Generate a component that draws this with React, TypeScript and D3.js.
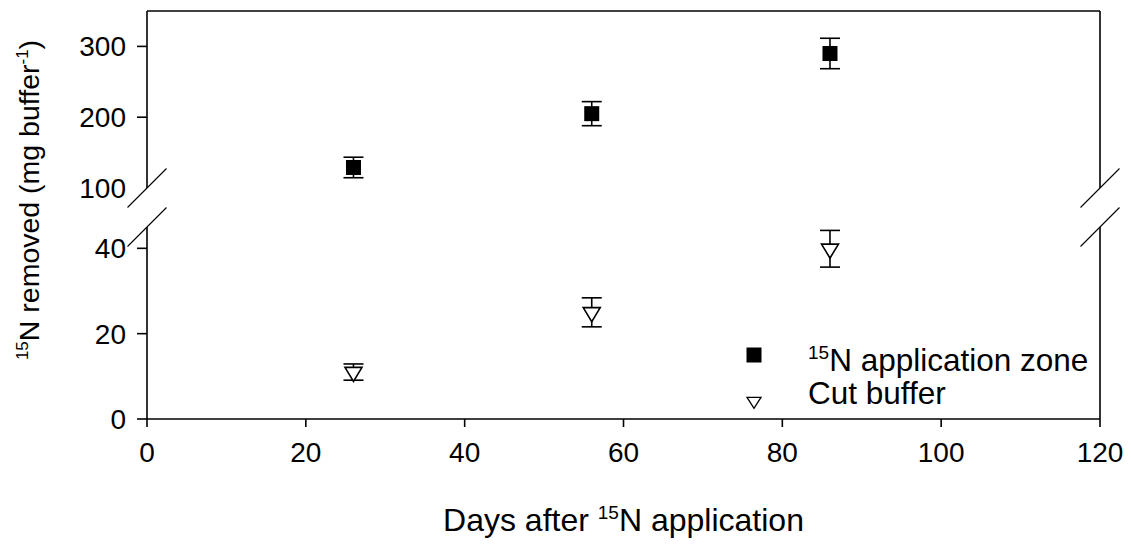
import React from "react";
import * as d3 from "d3";

const days = [26, 56, 86];
const zoneValues = [129, 205, 290];
const zoneErrors = [14.5, 17, 21.5];
const cutValues = [11, 25, 39.9];
const cutErrors = [1.9, 3.4, 4.3];
const xTicks = [0, 20, 40, 60, 80, 100, 120];
const upperTicks = [100, 200, 300];
const lowerTicks = [0, 20, 40];

const W = 1131;
const H = 546;
const left = 147;
const right = 1100;
const top = 11;
const bottom = 419;
const upperBottom = 188;
const lowerTop = 227;

const FONT = "'Liberation Sans', Arial, Helvetica, sans-serif";
const TICK_FS = 28;
const TITLE_FS = 32;
const YTITLE_FS = 28.5;
const LEG_FS = 31.5;

export default function App() {
  const x = d3.scaleLinear().domain([0, 120]).range([left, right]);
  const yU = d3.scaleLinear().domain([100, 350]).range([upperBottom, top]);
  const yL = d3.scaleLinear().domain([0, 45]).range([bottom, lowerTop]);

  const sw = 1.6;
  const cap = 10;
  const sq = 15;
  const triW = 17;
  const triH = 14;
  const tri = (cx: number, cy: number, w = triW, h = triH) =>
    `M${cx - w / 2},${cy - h / 3} L${cx + w / 2},${cy - h / 3} L${cx},${cy + (2 * h) / 3} Z`;

  const breakMark = (bx: number, by: number, k: number) => (
    <line key={k} x1={bx - 19.5} y1={by + 19.5} x2={bx + 19.5} y2={by - 19.5} stroke="#000" strokeWidth={1.1} />
  );

  return (
    <svg width={W} height={H} style={{ position: "absolute", left: 0, top: 0, background: "#fff" }} fontFamily={FONT}>
      <rect x={0} y={0} width={W} height={H} fill="#fff" />
      {/* frame */}
      <line x1={left} y1={top} x2={right} y2={top} stroke="#000" strokeWidth={sw} />
      <line x1={left} y1={bottom} x2={right} y2={bottom} stroke="#000" strokeWidth={sw} />
      <line x1={left} y1={top} x2={left} y2={upperBottom} stroke="#000" strokeWidth={sw} />
      <line x1={left} y1={lowerTop} x2={left} y2={bottom} stroke="#000" strokeWidth={sw} />
      <line x1={right} y1={top} x2={right} y2={upperBottom} stroke="#000" strokeWidth={sw} />
      <line x1={right} y1={lowerTop} x2={right} y2={bottom} stroke="#000" strokeWidth={sw} />
      {/* break marks */}
      {breakMark(left, upperBottom, 1)}
      {breakMark(left, lowerTop, 2)}
      {breakMark(right, upperBottom, 3)}
      {breakMark(right, lowerTop, 4)}
      {/* x ticks */}
      {xTicks.map((t) => (
        <g key={"xt" + t}>
          <line x1={x(t)} y1={bottom} x2={x(t)} y2={bottom + 8} stroke="#000" strokeWidth={sw} />
          <text x={x(t)} y={462} textAnchor="middle" fontSize={TICK_FS}>
            {t}
          </text>
        </g>
      ))}
      {/* y ticks upper */}
      {upperTicks.map((t) => (
        <g key={"yu" + t}>
          {t > 100 && <line x1={left - 10} y1={yU(t)} x2={left} y2={yU(t)} stroke="#000" strokeWidth={sw} />}
          <text x={126} y={yU(t) + 10} textAnchor="end" fontSize={TICK_FS}>
            {t}
          </text>
        </g>
      ))}
      {lowerTicks.map((t) => (
        <g key={"yl" + t}>
          <line x1={left - 10} y1={yL(t)} x2={left} y2={yL(t)} stroke="#000" strokeWidth={sw} />
          <text x={126} y={yL(t) + 10} textAnchor="end" fontSize={TICK_FS}>
            {t}
          </text>
        </g>
      ))}
      {/* axis titles */}
      <text x={(left + right) / 2} y={531} textAnchor="middle" fontSize={TITLE_FS}>
        Days after <tspan fontSize={19} dy={-12}>15</tspan>
        <tspan dy={12}>N application</tspan>
      </text>
      <text transform={`translate(39, 200) rotate(-90)`} textAnchor="middle" fontSize={YTITLE_FS}>
        <tspan fontSize={17} dy={-11}>15</tspan>
        <tspan dy={11}>N removed (mg buffer</tspan>
        <tspan fontSize={17} dy={-11}>-1</tspan>
        <tspan dy={11}>)</tspan>
      </text>
      {/* zone series */}
      {days.map((d, i) => {
        const cx = x(d);
        const yt = yU(zoneValues[i] + zoneErrors[i]);
        const yb = yU(zoneValues[i] - zoneErrors[i]);
        const cy = yU(zoneValues[i]);
        return (
          <g key={"z" + i}>
            <line x1={cx} y1={yt} x2={cx} y2={yb} stroke="#000" strokeWidth={sw} />
            <line x1={cx - cap} y1={yt} x2={cx + cap} y2={yt} stroke="#000" strokeWidth={sw} />
            <line x1={cx - cap} y1={yb} x2={cx + cap} y2={yb} stroke="#000" strokeWidth={sw} />
            <rect x={cx - sq / 2} y={cy - sq / 2} width={sq} height={sq} fill="#000" />
          </g>
        );
      })}
      {/* cut buffer series */}
      {days.map((d, i) => {
        const cx = x(d);
        const yt = yL(cutValues[i] + cutErrors[i]);
        const yb = yL(cutValues[i] - cutErrors[i]);
        const cy = yL(cutValues[i]);
        return (
          <g key={"c" + i}>
            <line x1={cx} y1={yt} x2={cx} y2={yb} stroke="#000" strokeWidth={sw} />
            <line x1={cx - cap} y1={yt} x2={cx + cap} y2={yt} stroke="#000" strokeWidth={sw} />
            <line x1={cx - cap} y1={yb} x2={cx + cap} y2={yb} stroke="#000" strokeWidth={sw} />
            <path d={tri(cx, cy)} fill="#fff" stroke="#000" strokeWidth={sw} />
          </g>
        );
      })}
      {/* legend */}
      <rect x={754 - 7.5} y={355 - 7.5} width={15} height={15} fill="#000" />
      <path d={tri(754, 401, 14, 11)} fill="#fff" stroke="#000" strokeWidth={1.3} />
      <text x={808} y={371} fontSize={LEG_FS}>
        <tspan fontSize={19} dy={-12}>15</tspan>
        <tspan dy={12}>N application zone</tspan>
      </text>
      <text x={808} y={404} fontSize={LEG_FS}>
        Cut buffer
      </text>
    </svg>
  );
}
